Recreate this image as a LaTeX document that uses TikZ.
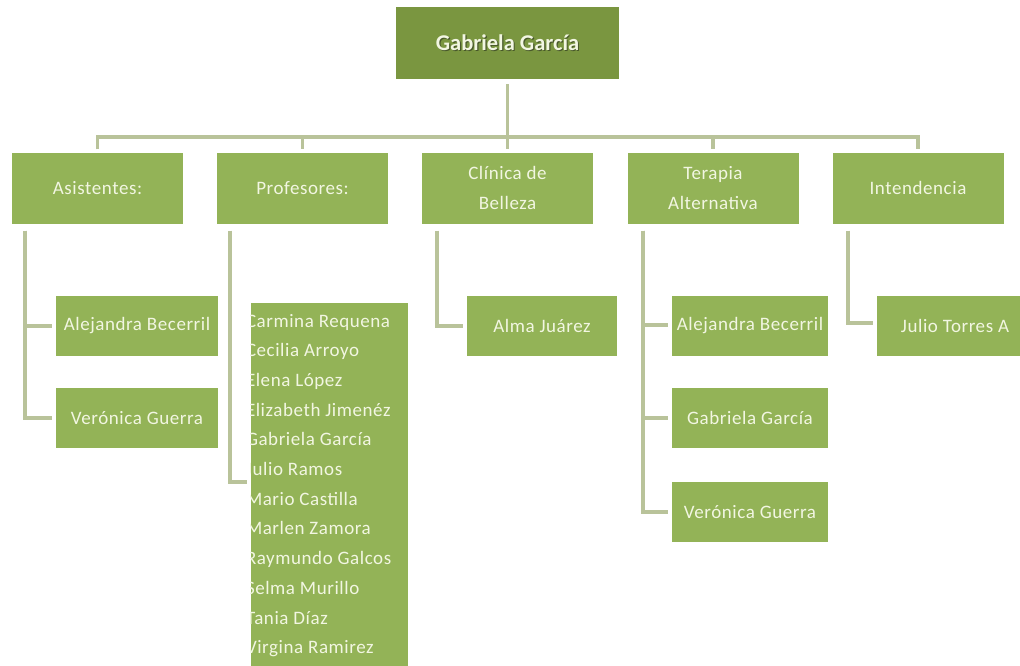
\documentclass[tikz,border=0pt]{standalone}
\usepackage{fontspec}
\setmainfont{Carlito}
\newfontfamily\chartfont[LetterSpace=3]{Carlito}
\usetikzlibrary{calc}
\definecolor{rootfill}{HTML}{7A9640}
\definecolor{boxfill}{HTML}{93B357}
\definecolor{wirecol}{HTML}{B9C39A}
\definecolor{ink}{HTML}{F2F6E2}
\definecolor{shade}{HTML}{48582A}
% light text with a small dark drop shadow
\newcommand\shadowed[1]{\makebox[0pt][l]{\hspace{1.2pt}\raisebox{-1.2pt}{\color{shade}#1}}#1}
\begin{document}
\begin{tikzpicture}[x=1pt,y=-1pt,
  rootbox/.style={fill=rootfill, text=ink, inner sep=0pt,
    minimum width=223pt, minimum height=72pt,
    font=\bfseries\fontsize{22.5}{26}\selectfont},
  headbox/.style={fill=boxfill, text=ink, inner sep=0pt, align=center,
    minimum width=171pt, minimum height=71pt,
    font=\chartfont\fontsize{19}{29.5}\selectfont},
  leafbox/.style={fill=boxfill, text=ink, inner sep=0pt, align=center,
    minimum height=60pt, font=\chartfont\fontsize{19}{22}\selectfont},
  wire/.style={draw=wirecol, line width=3.5pt},
]
\useasboundingbox (0,0) rectangle (1020,665);
\clip (0,0) rectangle (1020,665);
\fill[white] (0,0) rectangle (1020,665);

% top of the chart
\node[rootbox] (root) at (507.5,43) {\shadowed{Gabriela García}};

% departments
\node[headbox] (asis) at (97.5,188) {Asistentes:};
\node[headbox] (prof) at (302.5,188) {Profesores:};
\node[headbox] (clin) at (507.5,188) {Clínica de\\Belleza};
\node[headbox] (tera) at (713,188) {Terapia\\Alternativa};
\node[headbox] (inte) at (918,188) {Intendencia};

% staff
\node[leafbox, minimum width=162pt] (a1) at (137,326) {Alejandra Becerril};
\node[leafbox, minimum width=162pt] (a2) at (137,418) {Verónica Guerra};
\node[fill=boxfill, inner sep=0pt, minimum width=157pt, minimum height=377pt] (plist) at (329.5,491.5) {};
\node[leafbox, minimum width=150pt] (c1) at (542,326) {Alma Juárez};
\node[leafbox, minimum width=156pt] (t1) at (750,326) {Alejandra Becerril};
\node[leafbox, minimum width=156pt] (t2) at (750,418) {Gabriela García};
\node[leafbox, minimum width=156pt] (t3) at (750,512) {Verónica Guerra};
\node[leafbox, minimum width=156pt] (i1) at (955,326) {Julio Torres A};

% teachers listed inside the tall box
\begin{scope}
  \clip (plist.north west) rectangle (plist.south east);
  \node[anchor=north west, inner sep=0pt, text=ink, align=left,
        font=\chartfont\fontsize{19}{29.7}\selectfont] (names)
    at ($(plist.north west)+(-5,11)$)
    {Carmina Requena\\Cecilia Arroyo\\Elena López\\Elizabeth Jimenéz\\
     Gabriela García\\Julio Ramos\\Mario Castilla\\Marlen Zamora\\
     Raymundo Galcos\\Selma Murillo\\Tania Díaz\\Virgina Ramirez};
\end{scope}

% connectors from the top to the departments
\coordinate (barline) at (0,137);
\draw[wire] ($(root.south)+(0,5)$) -- ($(clin.north)+(0,-3)$);
\draw[wire] ($(asis.north)+(0,-3)$) |- (barline -| inte.north) -- ($(inte.north)+(0,-3)$);
\draw[wire] (barline -| prof.north) -- ($(prof.north)+(0,-3)$);
\draw[wire] (barline -| tera.north) -- ($(tera.north)+(0,-3)$);

% connectors from the departments to their staff
\draw[wire] ($(asis.south west)+(13,7)$) |- ($(a1.west)+(-4,0)$);
\draw[wire] ($(asis.south west)+(13,7)$) |- ($(a2.west)+(-4,0)$);
\draw[wire] ($(prof.south west)+(13,7)$) |- ($(plist.west)+(-4,-9.5)$);
\draw[wire] ($(clin.south west)+(15,7)$) |- ($(c1.west)+(-4,0)$);
\draw[wire] ($(tera.south west)+(15.5,7)$) |- ($(t1.west)+(-4,-1)$);
\draw[wire] ($(tera.south west)+(15.5,7)$) |- ($(t2.west)+(-4,0)$);
\draw[wire] ($(tera.south west)+(15.5,7)$) |- ($(t3.west)+(-4,0)$);
\draw[wire] ($(inte.south west)+(15.5,7)$) |- ($(i1.west)+(-4,-3)$);
\end{tikzpicture}
\end{document}
